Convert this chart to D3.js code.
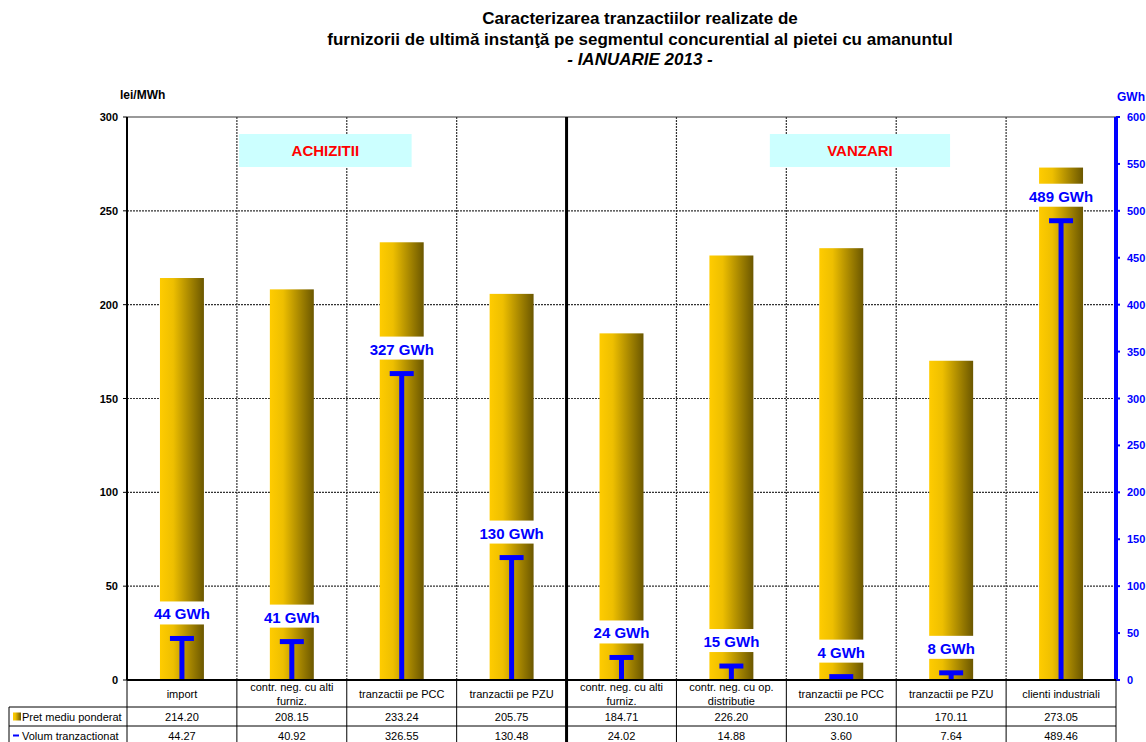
<!DOCTYPE html>
<html>
<head>
<meta charset="utf-8">
<script src="https://cdn.jsdelivr.net/npm/d3@7"></script>
<style>
  body { margin: 0; background: #fff; }
  svg { display: block; font-family: "Liberation Sans", Arial, sans-serif; }
</style>
</head>
<body>
<svg id="chart"></svg>
<script>
// chart data
const categories = [
  "import",
  "contr. neg. cu alti\nfurniz.",
  "tranzactii pe PCC",
  "tranzactii pe PZU",
  "contr. neg. cu alti\nfurniz.",
  "contr. neg. cu op.\ndistributie",
  "tranzactii pe PCC",
  "tranzactii pe PZU",
  "clienti industriali"
];
const price = [214.20, 208.15, 233.24, 205.75, 184.71, 226.20, 230.10, 170.11, 273.05];
const volume = [44.27, 40.92, 326.55, 130.48, 24.02, 14.88, 3.60, 7.64, 489.46];
const priceTicks = [0, 50, 100, 150, 200, 250, 300];
const volumeTicks = [0, 50, 100, 150, 200, 250, 300, 350, 400, 450, 500, 550, 600];
const seriesNames = ["Pret mediu ponderat", "Volum tranzactionat"];
const titleLines = [
  "Caracterizarea tranzactiilor realizate de",
  "furnizorii de ultimă instanţă pe segmentul concurential al pietei cu amanuntul",
  "- IANUARIE 2013 -"
];

const width = 1146, height = 742;
const plot = { left: 127, right: 1116, top: 117, bottom: 680 };
const blue = "#0000ff";

const svg = d3.select("#chart").attr("width", width).attr("height", height);

// gradient for the price bars
const defs = svg.append("defs");
const grad = defs.append("linearGradient").attr("id", "gold")
  .attr("x1", "0%").attr("x2", "100%").attr("y1", "0%").attr("y2", "0%");
grad.append("stop").attr("offset", "0%").attr("stop-color", "#ffcc00");
grad.append("stop").attr("offset", "30%").attr("stop-color", "#eebf00");
grad.append("stop").attr("offset", "100%").attr("stop-color", "#6b5700");

// scales
const x = d3.scaleBand()
  .domain(categories.map((d, i) => i))
  .range([plot.left, plot.right])
  .padding(0);
const yL = d3.scaleLinear().domain([0, 300]).range([plot.bottom, plot.top]);
const yR = d3.scaleLinear().domain([0, 600]).range([plot.bottom, plot.top]);
const bw = x.bandwidth();
const barW = bw * 0.4;

// title
svg.append("g").selectAll("text")
  .data(titleLines)
  .join("text")
  .attr("x", 640)
  .attr("y", (d, i) => 24 + i * 20.5)
  .attr("text-anchor", "middle")
  .attr("font-size", "17px")
  .attr("font-weight", "bold")
  .attr("font-style", (d, i) => i === 2 ? "italic" : "normal")
  .text(d => d);

// axis unit labels
svg.append("text").attr("x", 120).attr("y", 99)
  .attr("font-size", "12px").attr("font-weight", "bold").text("lei/MWh");
svg.append("text").attr("x", 1117).attr("y", 101)
  .attr("font-size", "12px").attr("font-weight", "bold").attr("fill", blue).text("GWh");

// horizontal gridlines
svg.append("g").selectAll("line")
  .data(priceTicks.filter(t => t > 0 && t < 300))
  .join("line")
  .attr("x1", plot.left).attr("x2", plot.right)
  .attr("y1", d => yL(d)).attr("y2", d => yL(d))
  .attr("stroke", "#333").attr("stroke-width", 1.2)
  .attr("stroke-dasharray", "2,1");
svg.append("line")
  .attr("x1", plot.left).attr("x2", plot.right)
  .attr("y1", plot.top).attr("y2", plot.top)
  .attr("stroke", "#999").attr("stroke-width", 2);

// vertical gridlines between categories
const bounds = d3.range(1, categories.length);
svg.append("g").selectAll("line")
  .data(bounds.filter(i => i !== 4))
  .join("line")
  .attr("x1", d => x(d)).attr("x2", d => x(d))
  .attr("y1", plot.top).attr("y2", plot.bottom)
  .attr("stroke", "#333").attr("stroke-width", 1.2)
  .attr("stroke-dasharray", "2,1");

// section labels
const sections = [
  { name: "ACHIZITII", from: 1, fromOff: 0.02, to: 2, toOff: 0.59 },
  { name: "VANZARI", from: 5, fromOff: 0.85, to: 7, toOff: 0.49 }
];
sections.forEach(s => {
  const x0 = x(s.from) + bw * s.fromOff;
  const x1 = x(s.to) + bw * s.toOff;
  svg.append("rect")
    .attr("x", x0).attr("y", 134)
    .attr("width", x1 - x0).attr("height", 33)
    .attr("fill", "#ccffff");
  svg.append("text")
    .attr("x", (x0 + x1) / 2).attr("y", 156)
    .attr("text-anchor", "middle")
    .attr("font-size", "15px").attr("font-weight", "bold")
    .attr("fill", "#ff0000")
    .text(s.name);
});

// price bars
svg.append("g").selectAll("rect")
  .data(price)
  .join("rect")
  .attr("x", (d, i) => x(i) + (bw - barW) / 2)
  .attr("y", d => yL(d))
  .attr("width", barW)
  .attr("height", d => yL(0) - yL(d))
  .attr("fill", "url(#gold)");

// volume labels with white background
const lbl = svg.append("g").selectAll("g")
  .data(volume)
  .join("g")
  .attr("transform", (d, i) => `translate(${x(i) + bw / 2},${yR(d) - 25})`);
lbl.append("rect")
  .attr("x", -38).attr("y", -12)
  .attr("width", 76).attr("height", 23)
  .attr("fill", "#fff");
lbl.append("text")
  .attr("text-anchor", "middle")
  .attr("y", 6)
  .attr("font-size", "15px").attr("font-weight", "bold")
  .attr("fill", blue)
  .text(d => Math.round(d) + " GWh");

// volume "T" markers
const vol = svg.append("g").selectAll("g")
  .data(volume)
  .join("g");
vol.append("line")
  .attr("x1", (d, i) => x(i) + bw / 2).attr("x2", (d, i) => x(i) + bw / 2)
  .attr("y1", yR(0)).attr("y2", d => yR(d))
  .attr("stroke", blue).attr("stroke-width", 5);
vol.append("line")
  .attr("x1", (d, i) => x(i) + bw / 2 - 12).attr("x2", (d, i) => x(i) + bw / 2 + 12)
  .attr("y1", d => yR(d)).attr("y2", d => yR(d))
  .attr("stroke", blue).attr("stroke-width", 5);

// left axis
svg.append("line")
  .attr("x1", plot.left).attr("x2", plot.left)
  .attr("y1", plot.top).attr("y2", plot.bottom)
  .attr("stroke", "#000").attr("stroke-width", 2);
const la = svg.append("g").selectAll("g").data(priceTicks).join("g");
la.append("line")
  .attr("x1", plot.left - 4).attr("x2", plot.left)
  .attr("y1", d => yL(d)).attr("y2", d => yL(d))
  .attr("stroke", "#000");
la.append("text")
  .attr("x", plot.left - 9).attr("y", d => yL(d) + 4)
  .attr("text-anchor", "end")
  .attr("font-size", "11px").attr("font-weight", "bold")
  .text(d => d);

// right axis
svg.append("line")
  .attr("x1", plot.right).attr("x2", plot.right)
  .attr("y1", plot.top).attr("y2", plot.bottom)
  .attr("stroke", blue).attr("stroke-width", 4);
const ra = svg.append("g").selectAll("g").data(volumeTicks).join("g");
ra.append("line")
  .attr("x1", plot.right).attr("x2", plot.right + 4)
  .attr("y1", d => yR(d)).attr("y2", d => yR(d))
  .attr("stroke", blue).attr("stroke-width", 2);
ra.append("text")
  .attr("x", plot.right + 11).attr("y", d => yR(d) + 4)
  .attr("font-size", "11px").attr("font-weight", "bold")
  .attr("fill", blue)
  .text(d => d);

// data table
const rowTop = [plot.bottom, 707, 726, 745];
const table = svg.append("g");
// category row
categories.forEach((c, i) => {
  const lines = c.split("\n");
  const cy = (rowTop[0] + rowTop[1]) / 2;
  lines.forEach((ln, j) => {
    table.append("text")
      .attr("x", x(i) + bw / 2)
      .attr("y", cy + 4 + (j - (lines.length - 1) / 2) * 14)
      .attr("text-anchor", "middle")
      .attr("font-size", "11px")
      .text(ln);
  });
});
// value rows
[price, volume].forEach((vals, r) => {
  const cy = (rowTop[r + 1] + rowTop[r + 2]) / 2;
  vals.forEach((v, i) => {
    table.append("text")
      .attr("x", x(i) + bw / 2).attr("y", cy + 4)
      .attr("text-anchor", "middle")
      .attr("font-size", "11px")
      .text(v.toFixed(2));
  });
  table.append("text")
    .attr("x", 22).attr("y", cy + 4)
    .attr("font-size", "11px")
    .text(seriesNames[r]);
});
// legend keys
table.append("rect")
  .attr("x", 13).attr("y", (rowTop[1] + rowTop[2]) / 2 - 4)
  .attr("width", 8).attr("height", 8)
  .attr("fill", "url(#gold)");
table.append("line")
  .attr("x1", 13).attr("x2", 19)
  .attr("y1", (rowTop[2] + rowTop[3]) / 2).attr("y2", (rowTop[2] + rowTop[3]) / 2)
  .attr("stroke", blue).attr("stroke-width", 2);
// table grid
table.append("line")
  .attr("x1", plot.left).attr("x2", plot.right)
  .attr("y1", plot.bottom).attr("y2", plot.bottom)
  .attr("stroke", "#000").attr("stroke-width", 2);
[1, 2].forEach(r => {
  table.append("line")
    .attr("x1", 9).attr("x2", plot.right)
    .attr("y1", rowTop[r]).attr("y2", rowTop[r])
    .attr("stroke", "#000").attr("stroke-width", 1);
});
table.append("line")
  .attr("x1", 9).attr("x2", 9)
  .attr("y1", rowTop[1]).attr("y2", height)
  .attr("stroke", "#000");
d3.range(0, categories.length + 1).forEach(i => {
  const xx = i === categories.length ? plot.right : x(i);
  table.append("line")
    .attr("x1", xx).attr("x2", xx)
    .attr("y1", plot.bottom).attr("y2", height)
    .attr("stroke", "#000").attr("stroke-width", 1);
});

// divider between purchases and sales
svg.append("line")
  .attr("x1", x(4)).attr("x2", x(4))
  .attr("y1", plot.top).attr("y2", height)
  .attr("stroke", "#000").attr("stroke-width", 3);
</script>
</body>
</html>
